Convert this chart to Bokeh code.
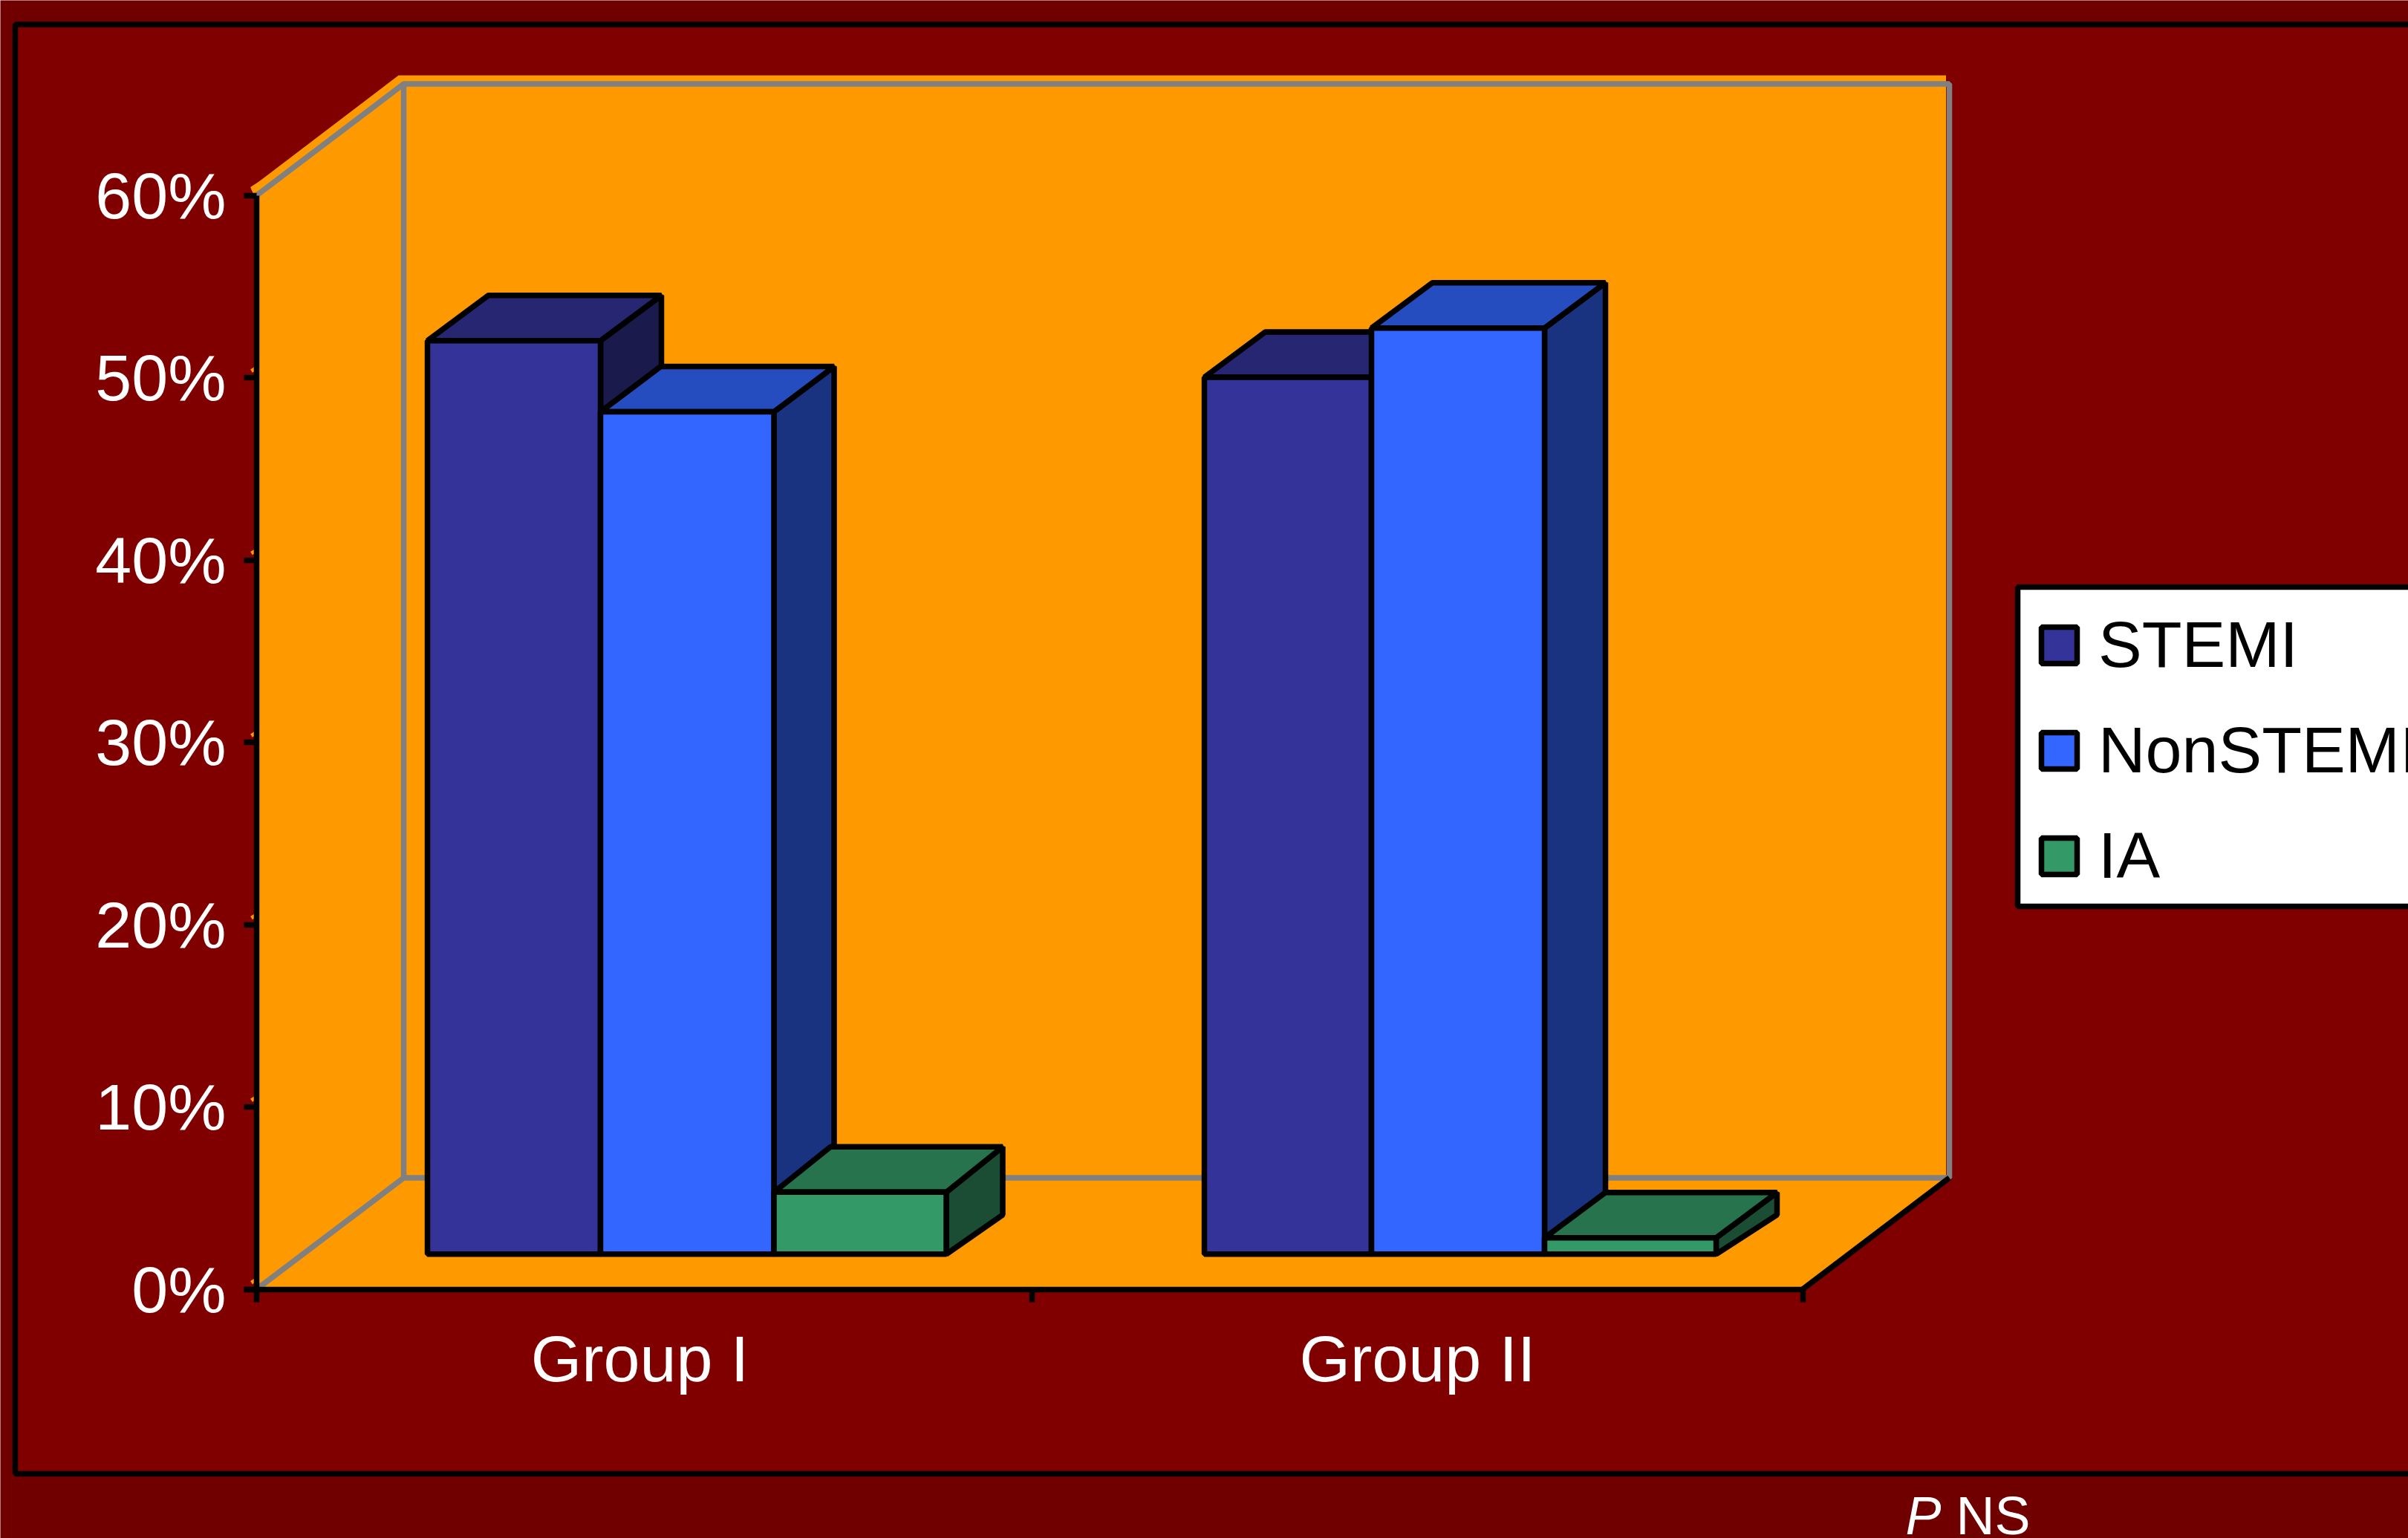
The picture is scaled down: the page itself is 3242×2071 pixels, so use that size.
from bokeh.core.properties import value
from bokeh.embed import file_html
from bokeh.models import FixedTicker, Legend, LegendItem, LinearAxis, Range1d
from bokeh.plotting import figure
from bokeh.resources import INLINE

# Percent of patients in each presentation, per group
groups = ["Group I", "Group II"]
stemi = [50.1, 48.1]
non_stemi = [46.2, 50.8]
ia = [3.4, 0.9]
series_names = ["STEMI", "NonSTEMI", "IA"]
y_ticks = [0, 10, 20, 30, 40, 50, 60]
y_labels = ["0%", "10%", "20%", "30%", "40%", "50%", "60%"]

# Face colours of each box: front, top, side
front_colors = ["#333399", "#3366FF", "#339966"]
top_colors = ["#262673", "#264DBF", "#26734D"]
side_colors = ["#1A1A4D", "#193380", "#1A4D33"]

WIDTH, HEIGHT = 3242, 2071
ZERO_ROW = 1735.6         # page row of the 0% tick
PX_PER_PCT = 24.55        # page pixels per percentage point
AXIS_LEFT, AXIS_MID, AXIS_RIGHT = 345, 1389, 2426.5
WALL_DX, WALL_DY = 198, 150 / PX_PER_PCT
STROKE = 7.5

FONT = "Liberation Sans"
OUTER_BG, INNER_BG, WALL, GREY = "#700000", "#800000", "#FF9900", "#808080"

# Bar layout inside the floor: the front plane sits slightly above the axis
BAR_BASE = (ZERO_ROW - 1688.3) / PX_PER_PCT
BAR_EDGES = [[575, 808, 1041.5, 1273.5], [1621, 1846, 2079, 2310]]
DEPTH_DX = [[82, 81, 76], [82, 82, 82]]
DEPTH_DY_TOP = 61 / PX_PER_PCT
DEPTH_DY_BOTTOM = 53 / PX_PER_PCT


def row(px):
    """Convert a page row into the value axis' units."""
    return (ZERO_ROW - px) / PX_PER_PCT


p = figure(
    width=WIDTH,
    height=HEIGHT,
    x_range=Range1d(0, WIDTH),
    y_range=Range1d(row(HEIGHT), row(0)),
    output_backend="svg",
    toolbar_location=None,
    min_border=0,
    x_axis_type=None,
    y_axis_type=None,
    outline_line_color=None,
    background_fill_color=OUTER_BG,
    border_fill_color=OUTER_BG,
)
p.grid.visible = False

# Inner panel with its black rule
p.quad(left=[20], right=[WIDTH + 60], top=[row(32.5)], bottom=[row(1984)],
       fill_color=INNER_BG, line_color="black", line_width=STROKE)

# Walls and floor of the box, with the wall colour running just past the top edge
top = y_ticks[-1]
p.patch(x=[AXIS_LEFT - 3.5, AXIS_LEFT - 3.5, AXIS_LEFT - 8, AXIS_LEFT + WALL_DX - 7,
           AXIS_RIGHT + WALL_DX - 5, AXIS_RIGHT + WALL_DX - 5, AXIS_RIGHT],
        y=[0, top, top + 10 / PX_PER_PCT, top + WALL_DY + 11.5 / PX_PER_PCT,
           top + WALL_DY + 11.5 / PX_PER_PCT, WALL_DY, 0],
        fill_color=WALL, line_color=None)

# Value gridlines share the wall colour, so only their stubs left of the axis show
p.segment(x0=[AXIS_LEFT - 7] * len(y_ticks), y0=[t + 9 / PX_PER_PCT for t in y_ticks],
          x1=[AXIS_LEFT + 7] * len(y_ticks), y1=[t + 18 / PX_PER_PCT for t in y_ticks],
          line_color=WALL, line_width=5)

# Grey edges of the back wall and left wall
p.line(x=[AXIS_LEFT, AXIS_LEFT + WALL_DX, AXIS_RIGHT + WALL_DX - 0.5, AXIS_RIGHT + WALL_DX - 0.5,
          AXIS_LEFT + WALL_DX, AXIS_LEFT],
       y=[top, top + WALL_DY, top + WALL_DY, WALL_DY, WALL_DY, 0],
       line_color=GREY, line_width=STROKE)
p.line(x=[AXIS_LEFT + WALL_DX, AXIS_LEFT + WALL_DX], y=[top + WALL_DY, WALL_DY],
       line_color=GREY, line_width=STROKE)

# Front edge of the floor's right side
p.line(x=[AXIS_RIGHT, AXIS_RIGHT + WALL_DX - 0.5], y=[0, WALL_DY],
       line_color="black", line_width=STROKE)

# Three-dimensional bars, drawn back to front within each group
series_values = [stemi, non_stemi, ia]
front_renderers = []
for s, values in enumerate(series_values):
    for g, v in enumerate(values):
        x0, x1 = BAR_EDGES[g][s], BAR_EDGES[g][s + 1]
        dx = DEPTH_DX[g][s]
        base, tip = BAR_BASE, BAR_BASE + v
        p.patch(x=[x1, x1 + dx, x1 + dx, x1],
                y=[base, base + DEPTH_DY_BOTTOM, tip + DEPTH_DY_TOP, tip],
                fill_color=side_colors[s], line_color="black", line_width=STROKE)
        p.patch(x=[x0, x0 + dx, x1 + dx, x1],
                y=[tip, tip + DEPTH_DY_TOP, tip + DEPTH_DY_TOP, tip],
                fill_color=top_colors[s], line_color="black", line_width=STROKE)
        r = p.quad(left=[x0], right=[x1], bottom=[base], top=[tip],
                   fill_color=front_colors[s], line_color="black", line_width=STROKE)
        if g == 0:
            front_renderers.append(r)

# Value axis at the box's left edge
y_axis = LinearAxis(
    fixed_location=AXIS_LEFT,
    ticker=FixedTicker(ticks=y_ticks),
    major_label_overrides=dict(zip(y_ticks, y_labels)),
    major_label_text_font=FONT,
    major_label_text_font_size="88px",
    major_label_text_color="white",
    major_label_standoff=24,
    axis_line_color="black",
    axis_line_width=STROKE,
    major_tick_line_color="black",
    major_tick_line_width=STROKE,
    major_tick_in=0,
    major_tick_out=17,
    minor_tick_line_color=None,
    bounds=(0, 60),
)
p.add_layout(y_axis, "left")

# Category axis: ticks mark the group boundaries
boundary_ticks = [AXIS_LEFT, AXIS_MID, AXIS_RIGHT]
x_ticks_axis = LinearAxis(
    fixed_location=0,
    ticker=FixedTicker(ticks=boundary_ticks),
    major_label_overrides={t: "" for t in boundary_ticks},
    axis_line_color="black",
    axis_line_width=STROKE,
    major_tick_line_color="black",
    major_tick_line_width=STROKE,
    major_tick_in=0,
    major_tick_out=17,
    minor_tick_line_color=None,
    bounds=(AXIS_LEFT - 17, AXIS_RIGHT),
)
p.add_layout(x_ticks_axis, "below")

group_centers = [861, 1908]
x_labels_axis = LinearAxis(
    fixed_location=0,
    ticker=FixedTicker(ticks=group_centers),
    major_label_overrides=dict(zip(group_centers, groups)),
    major_label_text_font=FONT,
    major_label_text_font_size="88px",
    major_label_text_color="white",
    major_label_standoff=38,
    axis_line_color=None,
    major_tick_line_color=None,
    minor_tick_line_color=None,
)
p.add_layout(x_labels_axis, "below")

# Significance note below the panel
p.text(x=[2565], y=[row(2040)], text=["P"], text_font=value(FONT), text_font_style="italic",
       text_font_size="72px", text_color="white", text_baseline="alphabetic")
p.text(x=[2633], y=[row(2040)], text=["NS"], text_font=value(FONT),
       text_font_size="72px", text_color="white", text_baseline="alphabetic")

# Legend box runs off the page's right edge
p.quad(left=[2716], right=[WIDTH + 60], top=[row(790)], bottom=[row(1220)],
       fill_color="white", line_color="black", line_width=STROKE)
legend = Legend(
    items=[LegendItem(label=n, renderers=[r]) for n, r in zip(series_names, front_renderers)],
    location=(2742, HEIGHT - 1203),
    margin=0,
    padding=0,
    spacing=40,
    glyph_width=60,
    glyph_height=61,
    label_standoff=23,
    label_height=88,
    label_text_font=FONT,
    label_text_font_size="88px",
    label_text_color="black",
    background_fill_alpha=0,
    border_line_color=None,
)
p.add_layout(legend, "center")

open("out.html", "w").write(file_html(p, INLINE))
